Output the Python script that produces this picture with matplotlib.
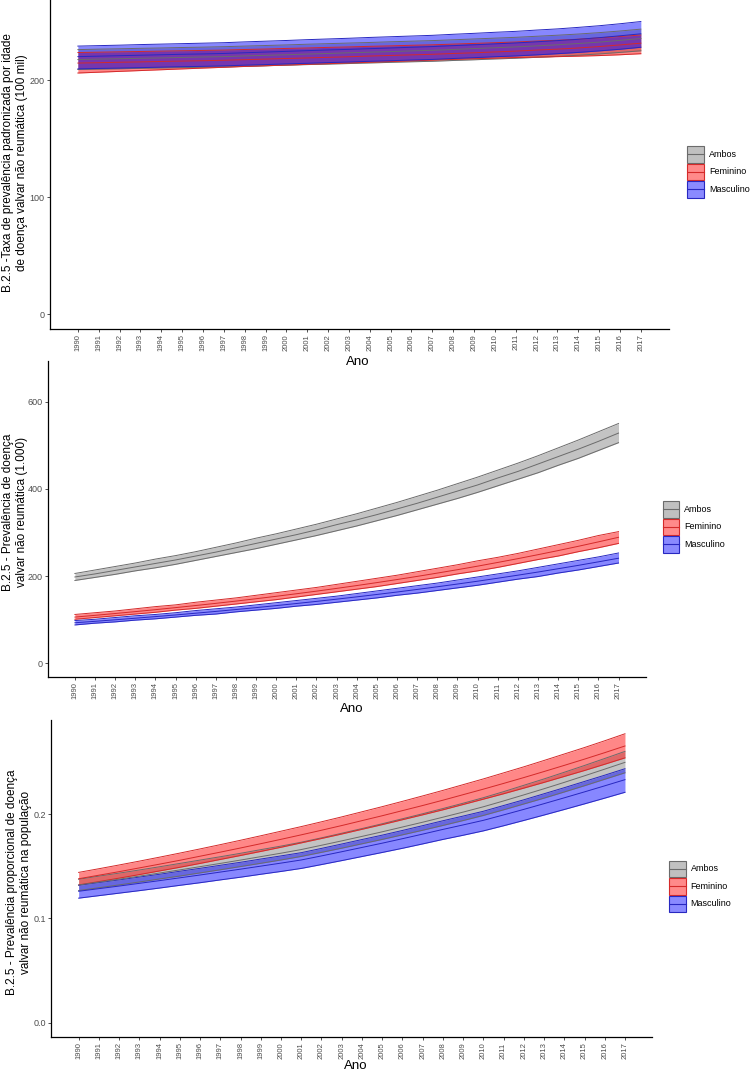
import matplotlib
matplotlib.use("Agg")
import matplotlib.pyplot as plt
from matplotlib.patches import Rectangle
from matplotlib.lines import Line2D
import matplotlib.transforms as mtransforms

plt.rcParams['font.family'] = ['Liberation Sans', 'DejaVu Sans']

years = list(range(1990, 2018))
groups = ["Ambos", "Feminino", "Masculino"]

# ---- Panel 1: age-standardised prevalence rate (per 100 mil) ----
rate_ambos = [217.5, 217.9, 218.2, 218.6, 218.9, 219.3, 219.7, 220.0, 220.6, 221.1, 221.6, 222.2, 222.7, 223.3,
              223.8, 224.3, 224.9, 225.4, 226.1, 226.9, 227.6, 228.3, 229.2, 230.1, 231.2, 232.4, 233.9, 235.5]
rate_ambos_lo = [209.0, 209.3, 209.6, 210.0, 210.3, 210.6, 210.9, 211.2, 211.7, 212.2, 212.7, 213.2, 213.6, 214.1,
                 214.6, 215.1, 215.6, 216.0, 216.7, 217.3, 218.0, 218.6, 219.4, 220.2, 221.2, 222.3, 223.6, 225.0]
rate_ambos_hi = [226.0, 226.4, 226.7, 227.1, 227.4, 227.8, 228.1, 228.5, 229.0, 229.5, 230.0, 230.6, 231.1, 231.6,
                 232.1, 232.7, 233.2, 233.7, 234.4, 235.1, 235.8, 236.5, 237.4, 238.3, 239.3, 240.5, 241.9, 243.5]
rate_fem = [214.5, 214.8, 215.2, 215.5, 215.9, 216.2, 216.5, 216.9, 217.4, 217.9, 218.4, 218.9, 219.4, 219.9,
            220.5, 221.0, 221.5, 222.0, 222.7, 223.3, 224.0, 224.7, 225.6, 226.4, 227.4, 228.6, 230.0, 231.5]
rate_fem_lo = [206.0, 206.7, 207.4, 208.1, 208.8, 209.5, 210.2, 210.9, 211.6, 212.2, 212.8, 213.4, 214.0, 214.6,
               215.2, 215.8, 216.4, 217.0, 217.6, 218.2, 218.7, 219.2, 219.6, 220.0, 220.4, 220.9, 221.6, 222.5]
rate_fem_hi = [223.5, 223.8, 224.1, 224.4, 224.7, 225.0, 225.3, 225.6, 226.1, 226.5, 227.0, 227.4, 227.9, 228.3,
               228.8, 229.2, 229.7, 230.1, 230.7, 231.3, 231.9, 232.5, 233.3, 234.0, 234.9, 236.0, 237.2, 238.5]
rate_masc = [220.0, 220.4, 220.8, 221.2, 221.6, 222.0, 222.3, 222.7, 223.3, 223.9, 224.5, 225.1, 225.7, 226.2,
             226.8, 227.4, 228.0, 228.6, 229.4, 230.1, 230.9, 231.7, 232.7, 233.7, 234.8, 236.2, 237.8, 239.5]
rate_masc_lo = [209.5, 209.9, 210.2, 210.6, 211.0, 211.4, 211.7, 212.1, 212.7, 213.2, 213.8, 214.3, 214.9, 215.4,
                216.0, 216.5, 217.1, 217.6, 218.4, 219.1, 219.9, 220.6, 221.5, 222.5, 223.6, 224.9, 226.3, 228.0]
rate_masc_hi = [229.0, 229.4, 229.8, 230.3, 230.7, 231.1, 231.5, 231.9, 232.6, 233.2, 233.8, 234.5, 235.1, 235.7,
                236.4, 237.0, 237.6, 238.2, 239.1, 239.9, 240.8, 241.6, 242.7, 243.7, 245.0, 246.4, 248.1, 250.0]

# ---- Panel 2: prevalence (thousands) ----
prev_ambos = [198, 205, 213, 221, 229, 237, 246, 255, 265, 275, 285, 295, 306, 318,
              329, 341, 354, 367, 381, 395, 409, 425, 440, 457, 474, 491, 509, 528]
prev_ambos_lo = [190, 197, 204, 212, 219, 227, 236, 245, 254, 263, 273, 283, 293, 304,
                 315, 327, 339, 352, 365, 378, 392, 407, 422, 437, 454, 470, 488, 506]
prev_ambos_hi = [206, 214, 222, 230, 239, 247, 256, 266, 276, 287, 297, 308, 319, 331,
                 343, 356, 369, 383, 397, 412, 427, 443, 459, 476, 494, 512, 531, 550]
prev_fem = [106.0, 110.0, 114.2, 118.5, 123.0, 127.7, 132.5, 137.5, 142.7, 148.1, 153.7, 159.5, 165.5, 171.8,
            178.3, 185.1, 192.1, 199.3, 206.9, 214.7, 222.8, 231.3, 240.0, 249.1, 258.5, 268.3, 278.5, 289.0]
prev_fem_lo = [101, 105, 109, 113, 117, 122, 126, 131, 136, 141, 146, 152, 158, 164,
               170, 176, 183, 190, 197, 205, 212, 220, 229, 238, 246, 256, 265, 275]
prev_fem_hi = [112, 116, 120, 125, 130, 134, 140, 145, 150, 156, 162, 168, 174, 181,
               188, 195, 202, 210, 218, 226, 235, 243, 252, 262, 272, 282, 293, 302]
prev_masc = [93.0, 96.3, 99.8, 103.4, 107.1, 110.9, 114.9, 119.0, 123.3, 127.7, 132.3, 137.1, 142.0, 147.1,
             152.4, 157.9, 163.5, 169.4, 175.5, 181.8, 188.3, 195.1, 202.1, 209.3, 216.9, 224.6, 232.7, 241.0]
prev_masc_lo = [88, 92, 95, 99, 102, 106, 110, 113, 118, 122, 126, 131, 135, 140,
                145, 150, 156, 161, 167, 173, 179, 186, 193, 199, 207, 214, 222, 230]
prev_masc_hi = [98, 101, 105, 109, 112, 116, 121, 125, 129, 134, 139, 144, 149, 154,
                160, 166, 172, 178, 184, 191, 198, 205, 212, 220, 228, 236, 244, 253]

# ---- Panel 3: proportional prevalence in population ----
prop_ambos = [.1320, .1348, .1376, .1405, .1435, .1465, .1496, .1527, .1559, .1592, .1625, .1660, .1701, .1743,
              .1786, .1830, .1876, .1922, .1970, .2019, .2070, .2126, .2184, .2243, .2304, .2367, .2431, .2496]
prop_ambos_lo = [.1267, .1294, .1321, .1349, .1378, .1406, .1436, .1466, .1497, .1528, .1560, .1594, .1633, .1673,
                 .1715, .1757, .1801, .1845, .1891, .1938, .1987, .2041, .2097, .2153, .2212, .2272, .2334, .2396]
prop_ambos_hi = [.1375, .1405, .1434, .1464, .1495, .1527, .1559, .1591, .1624, .1659, .1693, .1730, .1772, .1816,
                 .1861, .1907, .1955, .2003, .2053, .2104, .2157, .2215, .2276, .2337, .2401, .2466, .2533, .2601]
prop_fem = [.1380, .1414, .1448, .1484, .1520, .1557, .1596, .1635, .1675, .1716, .1758, .1801, .1845, .1890,
            .1937, .1984, .2033, .2082, .2133, .2186, .2239, .2294, .2350, .2408, .2467, .2527, .2589, .2653]
prop_fem_lo = [.1321, .1353, .1386, .1420, .1455, .1490, .1527, .1565, .1603, .1642, .1682, .1724, .1766, .1809,
               .1854, .1899, .1946, .1993, .2041, .2092, .2143, .2195, .2249, .2304, .2361, .2418, .2478, .2539]
prop_fem_hi = [.1441, .1476, .1512, .1549, .1587, .1626, .1666, .1707, .1749, .1792, .1836, .1880, .1926, .1973,
               .2022, .2071, .2122, .2174, .2227, .2282, .2337, .2395, .2453, .2514, .2576, .2638, .2703, .2770]
prop_masc = [.1260, .1285, .1310, .1336, .1362, .1389, .1416, .1444, .1472, .1501, .1530, .1560, .1599, .1639,
             .1680, .1721, .1764, .1808, .1853, .1896, .1940, .1992, .2045, .2100, .2156, .2213, .2271, .2330]
prop_masc_lo = [.1194, .1218, .1242, .1266, .1291, .1317, .1342, .1369, .1395, .1423, .1450, .1479, .1516, .1554,
                .1593, .1632, .1672, .1714, .1757, .1797, .1839, .1888, .1939, .1991, .2044, .2098, .2153, .2209]
prop_masc_hi = [.1317, .1343, .1369, .1396, .1423, .1452, .1480, .1509, .1538, .1569, .1599, .1630, .1671, .1713,
                .1756, .1798, .1843, .1889, .1936, .1981, .2027, .2082, .2137, .2195, .2253, .2313, .2373, .2435]

ylabels = ["B.2.5 -Taxa de prevalência padronizada por idade\nde doença valvar não reumática (100 mil)",
           "B.2.5 - Prevalência de doença\nvalvar não reumática (1.000)",
           "B.2.5 - Prevalência proporcional de doença\nvalvar não reumática na população"]
xlabel = "Ano"

fill_cols = {"Ambos": "#808080", "Feminino": "#FF0000", "Masculino": "#0000FF"}
line_cols = {"Ambos": "#6B6B6B", "Feminino": "#D42A2A", "Masculino": "#2828C0"}
key_fill = {"Ambos": "#C0C0C0", "Feminino": "#FF8A8A", "Masculino": "#8A8AFF"}
ALPHA = 0.47

W, H = 750, 1073
fig = plt.figure(figsize=(W / 100, H / 100), dpi=100)


def fx(px):
    return px / W


def fy(py):
    return 1 - py / H


panels = [
    dict(box=(49.7, 0.0, 669.0, 329.0), ylim=(-12.8, 268.4), yticks=[0, 100, 200], ytl=["0", "100", "200"],
         data={"Ambos": (rate_ambos, rate_ambos_lo, rate_ambos_hi),
               "Feminino": (rate_fem, rate_fem_lo, rate_fem_hi),
               "Masculino": (rate_masc, rate_masc_lo, rate_masc_hi)},
         ylab=ylabels[0], ylab_xy=(15, 163), xlab_xy=(358, 362), leg=(687.3, 146.0, 709.0)),
    dict(box=(47.7, 360.7, 645.7, 677.3), ylim=(-32.1, 694.0), yticks=[0, 200, 400, 600],
         ytl=["0", "200", "400", "600"],
         data={"Ambos": (prev_ambos, prev_ambos_lo, prev_ambos_hi),
               "Feminino": (prev_fem, prev_fem_lo, prev_fem_hi),
               "Masculino": (prev_masc, prev_masc_lo, prev_masc_hi)},
         ylab=ylabels[1], ylab_xy=(15, 512), xlab_xy=(352, 709), leg=(662.7, 501.0, 684.0)),
    dict(box=(51.3, 720.0, 652.3, 1037.3), ylim=(-0.014, 0.2902), yticks=[0.0, 0.1, 0.2],
         ytl=["0.0", "0.1", "0.2"],
         data={"Ambos": (prop_ambos, prop_ambos_lo, prop_ambos_hi),
               "Feminino": (prop_fem, prop_fem_lo, prop_fem_hi),
               "Masculino": (prop_masc, prop_masc_lo, prop_masc_hi)},
         ylab=ylabels[2], ylab_xy=(19, 882), xlab_xy=(356, 1066), leg=(669.3, 860.7, 690.7)),
]

for p in panels:
    x0, y0, x1, y1 = p["box"]
    ax = fig.add_axes([fx(x0), fy(y1), (x1 - x0) / W, (y1 - y0) / H])
    for g in groups:
        m, lo, hi = p["data"][g]
        ax.fill_between(years, lo, hi, color=fill_cols[g], alpha=ALPHA, linewidth=0, zorder=2)
        ax.plot(years, lo, color=line_cols[g], lw=0.7, zorder=3)
        ax.plot(years, hi, color=line_cols[g], lw=0.7, zorder=3)
    for g in groups:
        m, lo, hi = p["data"][g]
        ax.plot(years, m, color=line_cols[g], lw=0.7, zorder=4)
    ax.set_xlim(1988.65, 2018.35)
    ax.set_ylim(*p["ylim"])
    ax.set_yticks(p["yticks"])
    ax.set_yticklabels(p["ytl"])
    ax.set_xticks(years)
    ax.set_xticklabels([str(y) for y in years], rotation=90, va="top", ha="center")
    offset = mtransforms.ScaledTranslation(2.5 / 100, 0, fig.dpi_scale_trans)
    for lab in ax.get_xticklabels():
        lab.set_transform(lab.get_transform() + offset)
    for s in ["top", "right"]:
        ax.spines[s].set_visible(False)
    for s in ["left", "bottom"]:
        ax.spines[s].set_linewidth(0.9)
        ax.spines[s].set_color("black")
    ax.tick_params(axis="both", direction="out", length=2.2, width=0.6, color="#333333")
    ax.tick_params(axis="y", labelsize=6.5, labelcolor="#4D4D4D", pad=1.5)
    ax.tick_params(axis="x", labelsize=5.5, labelcolor="#4D4D4D", pad=1.5)
    ax.set_facecolor("none")

    fig.text(fx(p["ylab_xy"][0]), fy(p["ylab_xy"][1]), p["ylab"], rotation=90, ha="center", va="center",
             multialignment="center", fontsize=8.5, linespacing=1.15)
    fig.text(fx(p["xlab_xy"][0]), fy(p["xlab_xy"][1]), xlabel, ha="center", va="center", fontsize=9.5)

    kx, ky, tx = p["leg"]
    kw, kh, pitch = 16.7, 16.5, 17.5
    for i, g in enumerate(groups):
        top = ky + i * pitch
        rect = Rectangle((fx(kx), fy(top + kh)), kw / W, kh / H, transform=fig.transFigure,
                         facecolor=key_fill[g], edgecolor=line_cols[g], linewidth=0.8)
        fig.add_artist(rect)
        fig.add_artist(Line2D([fx(kx + 0.5), fx(kx + kw - 0.5)], [fy(top + kh / 2)] * 2,
                              transform=fig.transFigure, color=line_cols[g], lw=0.8))
        fig.text(fx(tx), fy(top + kh / 2), g, ha="left", va="center", fontsize=6.5)

fig.savefig("out.png", dpi=100)
